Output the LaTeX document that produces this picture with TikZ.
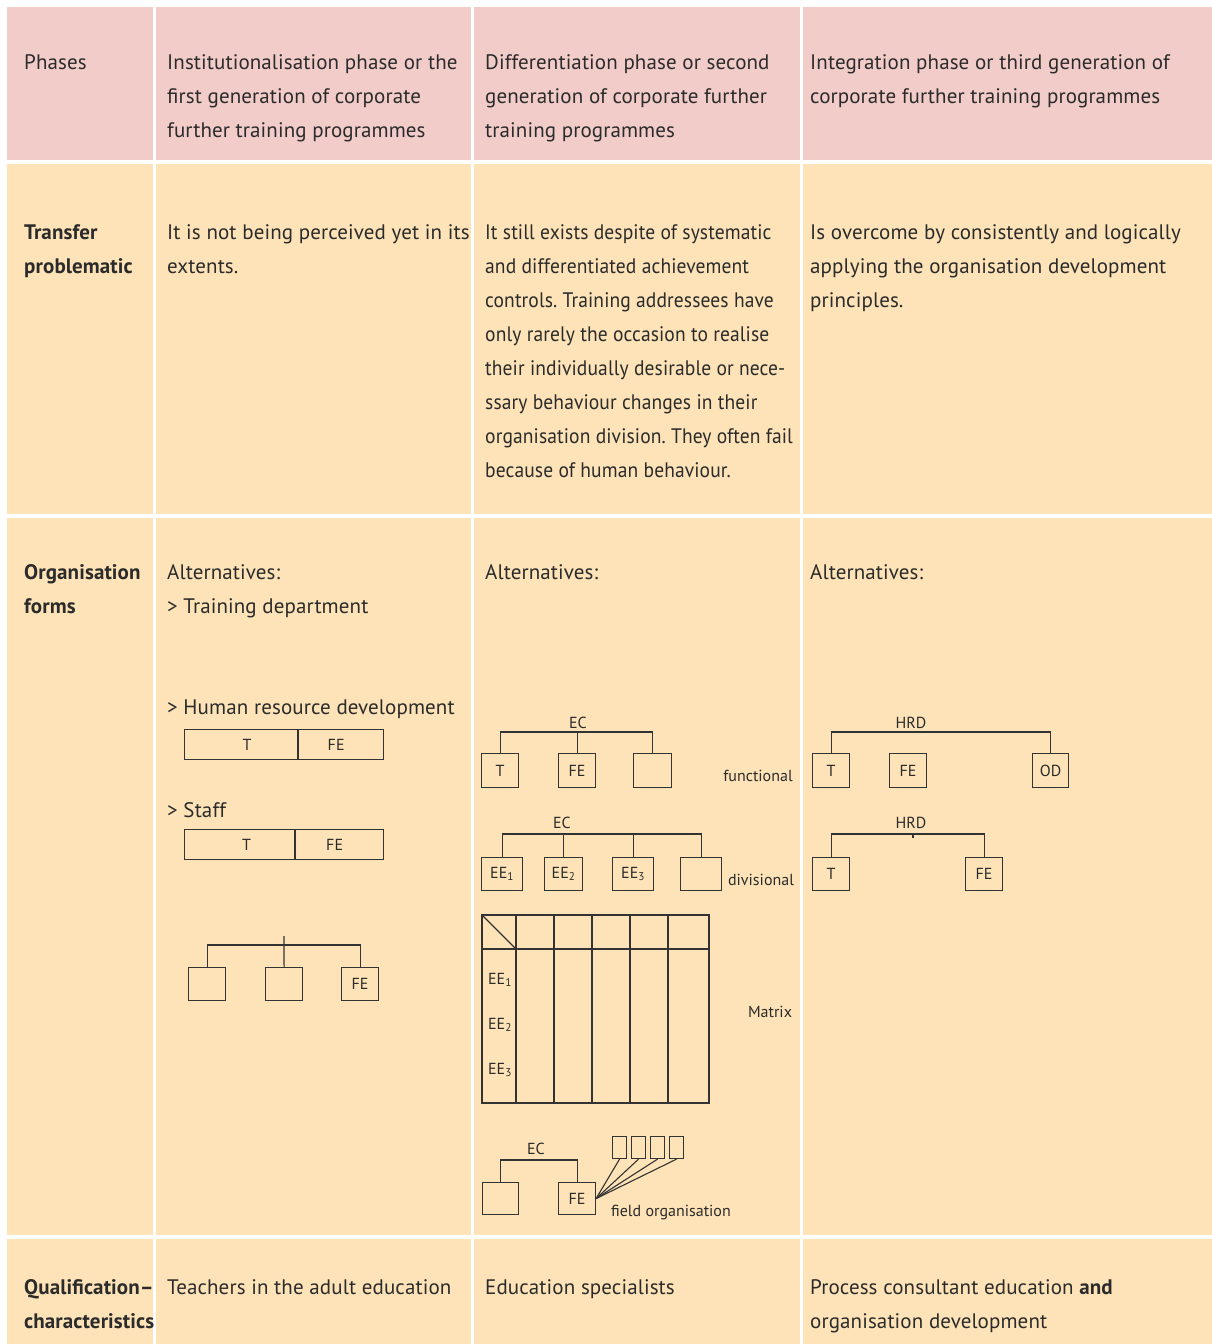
\documentclass[tikz,border=0pt]{standalone}
\usepackage{fontspec}
\setmainfont[LetterSpace=0.5]{PT Sans}
\usepackage{xcolor}
\usepackage{tikz}
\usetikzlibrary{positioning}
\frenchspacing
\definecolor{headbg}{HTML}{F2CCC9}
\definecolor{bodybg}{HTML}{FDE3B7}
\definecolor{ink}{HTML}{2B2B2B}
\definecolor{rule}{HTML}{333333}
\newfontfamily\labfont{PT Sans}
\tikzset{
  txt/.style={anchor=north west, align=left, inner sep=0pt, text=ink, font=\fontsize{21}{34}\selectfont},
  txtn/.style={txt, font=\fontsize{21}{34}\selectfont\addfontfeature{FakeStretch=0.93}},
  txtb/.style={txt, font=\fontsize{21}{34}\selectfont\bfseries},
  lab/.style={text=ink, inner sep=0pt, font=\labfont\fontsize{16}{18}\selectfont},
  box/.style={draw=rule, line width=1.1pt, minimum width=37pt, minimum height=34pt, inner sep=0pt, anchor=north west, text=ink, font=\labfont\fontsize{16}{18}\selectfont},
  bar/.style={box, minimum height=30pt},
  tiny/.style={box, minimum width=14pt, minimum height=22pt},
  link/.style={draw=rule, line width=1.1pt},
}

\begin{document}
\begin{tikzpicture}[x=1pt, y=-1pt]
  \fill[white] (0,0) rectangle (1212,1344);
  \useasboundingbox (0,0) rectangle (1212,1344);
  % table cells
  \foreach \xa/\xb in {7/153,156/471,474/800,803/1212} {
    \fill[headbg] (\xa,7) rectangle (\xb,160);
    \foreach \ya/\yb in {164/514,518/1235,1239/1344}
      \fill[bodybg] (\xa,\ya) rectangle (\xb,\yb);
  }

  % header
  \node[txt] (hph) at (24,54) {Phases};
  \node[txt] (hp1) at (167,54) {Institutionalisation phase or the\\first generation of corporate\\further training programmes};
  \node[txt] (hp2) at (485,54) {Differentiation phase or second\\generation of corporate further\\training programmes};
  \node[txt] (hp3) at (810,54) {Integration phase or third generation of\\corporate further training programmes};

  % transfer
  \node[txtb] (rtr) at (24,224) {Transfer\\problematic};
  \node[txt] (tr1) at (167,224) {It is not being perceived yet in its\\extents.};
  \node[txtn] (tr2) at (485,224) {It still exists despite of systematic\\and differentiated achievement\\controls. Training addressees have\\only rarely the occasion to realise\\their individually desirable or nece-\\ssary behaviour changes in their\\organisation division. They often fail\\because of human behaviour.};
  \node[txt] (tr3) at (810,224) {Is overcome by consistently and logically\\applying the organisation development\\principles.};

  % organisation forms
  \node[txtb] (ror) at (24,564) {Organisation\\forms};
  \node[txt] (or1) at (167,564) {Alternatives:\\> Training department};
  \node[txt] (or1b) at (167,700) {> Human resource development};
  \node[txt] (or1c) at (167,802) {> Staff};
  \node[txt] (or2) at (485,564) {Alternatives:};
  \node[txt] (or3) at (810,564) {Alternatives:};

  \node[bar, minimum width=113pt] (hrdT) at (184,729) {\hspace*{12pt}T};
  \node[bar, minimum width=85pt, anchor=west, right=0pt of hrdT] (hrdFE) {FE\hspace*{10pt}};
  \node[bar, minimum width=110pt] (stT) at (184,829) {\hspace*{14pt}T};
  \node[bar, minimum width=88pt, anchor=west, right=0pt of stT] (stFE) {FE\hspace*{10pt}};

  \node[box, minimum height=33pt] (sa) at (188,967) {};
  \node[box, minimum height=33pt] (sb) at (265,967) {};
  \node[box, minimum height=33pt] (sc) at (341,967) {FE};
  \coordinate (sbar) at (0,945);
  \coordinate (stop) at (284,936);
  \draw[link] (sa.north) |- (sc.north |- sbar) -- (sc.north);
  \draw[link] (stop) -- (sb.north);

  % functional
  \node[lab] (fec) at (578,723) {EC};
  \coordinate (fbar) at (0,732);
  \node[box] (fT) at (481,753) {T};
  \node[box] (fFE) at (558,753) {FE};
  \node[box, minimum width=38pt] (fX) at (633,753) {};
  \draw[link] (fT.north) |- (fX.north |- fbar) -- (fX.north);
  \draw[link] (fFE.north) -- (fFE.north |- fbar);
  \node[lab] (ffun) at (758,776) {functional};

  % divisional
  \node[lab] (dec) at (562,823) {EC};
  \coordinate (dbar) at (0,834);
  \node[box, minimum width=41pt, minimum height=33pt] (dE1) at (481,857) {EE\textsubscript{1}};
  \node[box, minimum width=38pt, minimum height=33pt] (dE2) at (544,857) {EE\textsubscript{2}};
  \node[box, minimum width=41pt, minimum height=33pt] (dE3) at (612,857) {EE\textsubscript{3}};
  \node[box, minimum width=41pt, minimum height=33pt] (dX) at (680,857) {};
  \draw[link] (dE1.north) |- (dX.north |- dbar) -- (dX.north);
  \foreach \n in {dE2,dE3}
    \draw[link] (\n.north) -- (\n.north |- dbar);
  \node[lab] (ddiv) at (761,880) {divisional};

  % matrix
  \draw[link] (482,915) rectangle (709,1103);
  \draw[link] (482,949) -- (709,949);
  \draw[link] (482,915) -- (516,949);
  \foreach \x in {516,554,592,630,668}
    \draw[link] (\x,915) -- (\x,1103);
  \node[lab] (mE1) at (500,980) {EE\textsubscript{1}};
  \node[lab] (mE2) at (500,1025) {EE\textsubscript{2}};
  \node[lab] (mE3) at (500,1070) {EE\textsubscript{3}};
  \node[lab] (mlab) at (770,1012) {Matrix};

  % field organisation
  \node[lab] (gec) at (536,1149) {EC};
  \coordinate (gbar) at (0,1160);
  \node[box, minimum width=36pt, minimum height=32pt] (gA) at (482,1182) {};
  \node[box, minimum height=32pt] (gFE) at (558,1182) {FE};
  \draw[link] (gA.north) |- (gFE.north |- gbar) -- (gFE.north);
  \foreach \i/\x in {1/612,2/631,3/650,4/669}
    \node[tiny] (g\i) at (\x,1136) {};
  \foreach \i in {1,...,4}
    \draw[link] (gFE.east) -- (g\i.south);
  \node[lab] (gfo) at (671,1213) {field organisation};

  % integration
  \node[lab] (h1) at (911,723) {HRD};
  \coordinate (hbar) at (0,732);
  \node[box] (hT) at (812,753) {T};
  \node[box] (hFE) at (889,753) {FE};
  \node[box, minimum width=36pt] (hOD) at (1032,753) {OD};
  \draw[link] (hT.north) |- (hOD.north |- hbar) -- (hOD.north);

  \node[lab] (h2) at (911,823) {HRD};
  \coordinate (kbar) at (0,834);
  \coordinate (ktick) at (913,838);
  \node[box, minimum height=33pt] (kT) at (812,857) {T};
  \node[box, minimum height=33pt] (kFE) at (965,857) {FE};
  \draw[link] (kT.north) |- (kFE.north |- kbar) -- (kFE.north);
  \draw[link] (ktick) -- (ktick |- kbar);

  % qualification
  \node[txtb] (rq) at (24,1279) {Qualification–\\characteristics};
  \node[txt] (q1) at (167,1279) {Teachers in the adult education};
  \node[txt] (q2) at (485,1279) {Education specialists};
  \node[txt] (q3) at (810,1279) {Process consultant education \textbf{and}\\organisation development};
\end{tikzpicture}
\end{document}
